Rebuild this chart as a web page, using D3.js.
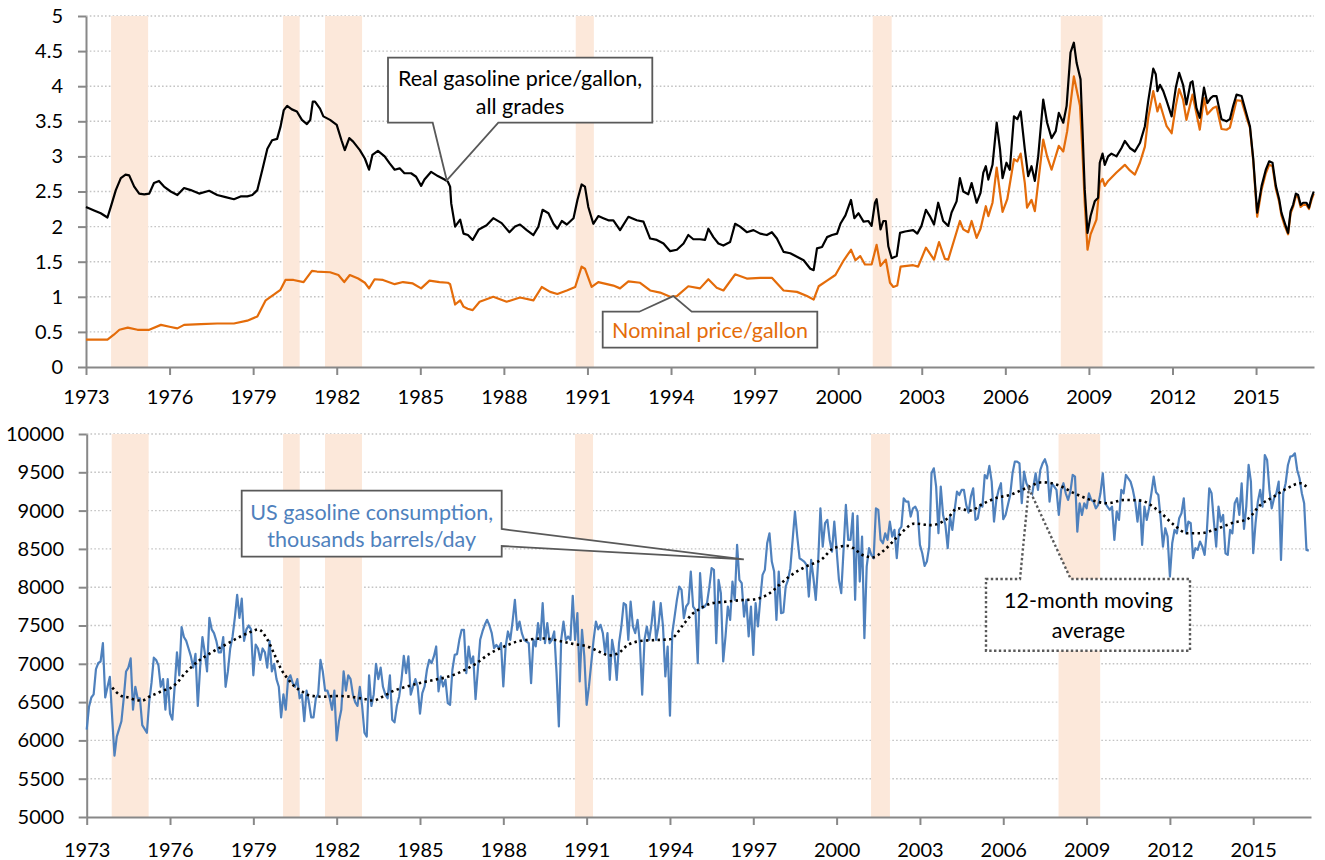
<!DOCTYPE html>
<html><head><meta charset="utf-8">
<script src="https://cdn.jsdelivr.net/npm/d3@7"></script>
<style>
body{margin:0;background:#fff}
svg{display:block}
text{font-family:Lato,"Noto Sans",sans-serif}
</style>
</head><body>
<svg id="chart" width="1325" height="860"></svg>
<script>
// ---------------- DATA ----------------
const xTickYears = [1973,1976,1979,1982,1985,1988,1991,1994,1997,2000,2003,2006,2009,2012,2015];
const priceTicks = [0,0.5,1,1.5,2,2.5,3,3.5,4,4.5,5];
const consTicks = [5000,5500,6000,6500,7000,7500,8000,8500,9000,9500,10000];
const recessions = [[1973.90,1975.23],[1980.07,1980.67],[1981.58,1982.91],[1990.58,1991.23],[2001.24,2001.92],[2007.99,2009.49]];

// real gasoline price per gallon, all grades [year, $]
const realPrice = [[1973.00,2.28],[1973.29,2.23],[1973.53,2.19],[1973.77,2.13],[1973.89,2.28],[1974.07,2.52],[1974.25,2.69],[1974.42,2.74],[1974.55,2.73],[1974.73,2.57],[1974.91,2.47],[1975.09,2.46],[1975.27,2.47],[1975.44,2.62],[1975.62,2.65],[1975.80,2.57],[1976.04,2.50],[1976.28,2.45],[1976.52,2.55],[1976.76,2.52],[1977.06,2.47],[1977.42,2.51],[1977.71,2.45],[1978.01,2.42],[1978.31,2.39],[1978.55,2.43],[1978.79,2.43],[1978.97,2.45],[1979.15,2.52],[1979.33,2.81],[1979.51,3.11],[1979.68,3.23],[1979.86,3.25],[1979.98,3.42],[1980.10,3.66],[1980.22,3.72],[1980.39,3.67],[1980.57,3.64],[1980.75,3.52],[1980.93,3.46],[1981.05,3.52],[1981.14,3.78],[1981.22,3.78],[1981.40,3.68],[1981.52,3.57],[1981.76,3.52],[1982.00,3.45],[1982.17,3.23],[1982.29,3.09],[1982.45,3.26],[1982.59,3.21],[1982.83,3.09],[1983.01,2.97],[1983.16,2.81],[1983.28,3.02],[1983.48,3.08],[1983.72,3.00],[1983.90,2.90],[1984.08,2.81],[1984.26,2.83],[1984.43,2.76],[1984.67,2.76],[1984.85,2.71],[1985.03,2.58],[1985.15,2.67],[1985.39,2.78],[1985.63,2.72],[1985.87,2.67],[1985.99,2.64],[1986.07,2.57],[1986.11,2.33],[1986.25,2.00],[1986.43,2.10],[1986.55,1.90],[1986.71,1.88],[1986.88,1.81],[1987.10,1.96],[1987.38,2.02],[1987.62,2.12],[1987.92,2.05],[1988.20,1.92],[1988.40,2.00],[1988.58,2.03],[1988.82,1.95],[1989.06,1.88],[1989.24,2.00],[1989.39,2.24],[1989.60,2.19],[1989.78,2.04],[1989.92,1.97],[1990.08,2.08],[1990.26,2.03],[1990.50,2.12],[1990.64,2.38],[1990.79,2.60],[1990.91,2.57],[1991.03,2.28],[1991.21,2.04],[1991.39,2.15],[1991.57,2.12],[1991.75,2.09],[1991.93,2.09],[1992.17,1.95],[1992.47,2.14],[1992.77,2.09],[1993.01,2.07],[1993.25,1.83],[1993.49,1.81],[1993.73,1.76],[1993.97,1.65],[1994.21,1.67],[1994.45,1.76],[1994.62,1.88],[1994.80,1.82],[1995.04,1.82],[1995.22,1.81],[1995.34,1.97],[1995.52,1.85],[1995.70,1.76],[1995.88,1.73],[1996.12,1.78],[1996.30,2.04],[1996.48,2.00],[1996.72,1.92],[1996.96,1.95],[1997.20,1.90],[1997.44,1.88],[1997.62,1.92],[1997.80,1.83],[1998.04,1.64],[1998.28,1.62],[1998.52,1.57],[1998.76,1.52],[1999.00,1.40],[1999.12,1.38],[1999.24,1.69],[1999.42,1.71],[1999.60,1.85],[1999.78,1.88],[1999.96,1.90],[2000.08,2.04],[2000.26,2.16],[2000.46,2.38],[2000.58,2.12],[2000.73,2.19],[2000.91,2.07],[2001.08,2.08],[2001.20,2.01],[2001.32,2.34],[2001.38,2.39],[2001.52,1.96],[2001.62,2.08],[2001.71,2.08],[2001.80,1.72],[2001.92,1.55],[2002.10,1.58],[2002.22,1.91],[2002.40,1.93],[2002.69,1.95],[2002.84,1.90],[2002.99,2.01],[2003.15,2.24],[2003.29,2.15],[2003.44,2.03],[2003.59,2.34],[2003.77,2.08],[2003.95,2.01],[2004.07,2.20],[2004.25,2.36],[2004.37,2.69],[2004.49,2.50],[2004.67,2.46],[2004.79,2.62],[2004.97,2.34],[2005.11,2.48],[2005.21,2.77],[2005.30,2.86],[2005.39,2.67],[2005.54,2.88],[2005.69,3.48],[2005.81,3.10],[2005.90,2.69],[2006.04,2.91],[2006.16,2.81],[2006.31,3.57],[2006.43,3.53],[2006.55,3.64],[2006.70,3.10],[2006.82,2.72],[2006.94,2.86],[2007.06,2.65],[2007.18,3.00],[2007.36,3.81],[2007.50,3.48],[2007.66,3.26],[2007.81,3.36],[2007.92,3.62],[2008.08,3.48],[2008.20,3.72],[2008.34,4.48],[2008.46,4.62],[2008.56,4.33],[2008.70,4.10],[2008.77,3.38],[2008.85,2.53],[2008.95,1.91],[2009.06,2.15],[2009.21,2.36],[2009.33,2.41],[2009.39,2.91],[2009.49,3.04],[2009.57,2.88],[2009.69,3.00],[2009.81,3.04],[2009.99,3.00],[2010.17,3.12],[2010.29,3.22],[2010.47,3.12],[2010.65,3.07],[2010.83,3.19],[2011.01,3.43],[2011.13,3.79],[2011.31,4.25],[2011.40,4.17],[2011.46,3.93],[2011.55,4.02],[2011.67,3.93],[2011.79,3.79],[2011.97,3.57],[2012.12,3.98],[2012.24,4.19],[2012.38,4.02],[2012.50,3.74],[2012.65,4.05],[2012.72,4.07],[2012.86,3.69],[2012.98,3.55],[2013.13,3.98],[2013.25,3.76],[2013.37,3.83],[2013.46,3.86],[2013.58,3.86],[2013.76,3.53],[2013.94,3.50],[2014.06,3.53],[2014.18,3.72],[2014.30,3.88],[2014.48,3.86],[2014.66,3.60],[2014.78,3.43],[2014.90,2.96],[2015.04,2.20],[2015.20,2.58],[2015.35,2.81],[2015.47,2.93],[2015.59,2.91],[2015.71,2.58],[2015.83,2.39],[2015.91,2.20],[2016.03,2.05],[2016.15,1.91],[2016.24,2.22],[2016.33,2.31],[2016.43,2.47],[2016.51,2.45],[2016.60,2.31],[2016.69,2.34],[2016.81,2.34],[2016.90,2.27],[2016.99,2.41],[2017.07,2.50]];

// nominal price per gallon [year, $]
const nominalPrice = [[1973.00,0.39],[1973.77,0.39],[1974.00,0.46],[1974.20,0.53],[1974.50,0.56],[1974.85,0.53],[1975.27,0.53],[1975.69,0.60],[1976.04,0.57],[1976.28,0.55],[1976.52,0.60],[1977.12,0.61],[1977.71,0.62],[1978.31,0.62],[1978.79,0.66],[1979.15,0.72],[1979.45,0.95],[1979.74,1.03],[1979.98,1.10],[1980.16,1.24],[1980.45,1.24],[1980.81,1.21],[1981.11,1.37],[1981.29,1.36],[1981.76,1.35],[1982.06,1.31],[1982.27,1.21],[1982.47,1.31],[1982.77,1.26],[1983.01,1.20],[1983.16,1.12],[1983.36,1.25],[1983.66,1.24],[1984.08,1.18],[1984.38,1.21],[1984.73,1.19],[1985.03,1.12],[1985.33,1.23],[1985.69,1.21],[1985.99,1.20],[1986.07,1.18],[1986.25,0.89],[1986.43,0.95],[1986.55,0.86],[1986.70,0.83],[1986.88,0.81],[1987.13,0.93],[1987.62,1.00],[1988.10,0.93],[1988.58,0.99],[1989.06,0.95],[1989.36,1.14],[1989.66,1.07],[1989.92,1.04],[1990.26,1.09],[1990.56,1.14],[1990.79,1.43],[1990.91,1.40],[1991.15,1.14],[1991.39,1.21],[1991.93,1.16],[1992.17,1.12],[1992.47,1.22],[1992.89,1.20],[1993.25,1.09],[1993.61,1.06],[1993.97,1.00],[1994.21,1.01],[1994.62,1.15],[1995.04,1.12],[1995.34,1.25],[1995.64,1.13],[1995.88,1.09],[1996.30,1.32],[1996.72,1.26],[1997.20,1.27],[1997.62,1.27],[1998.04,1.09],[1998.52,1.07],[1998.88,1.01],[1999.12,0.96],[1999.30,1.15],[1999.60,1.23],[1999.90,1.31],[2000.20,1.52],[2000.46,1.67],[2000.62,1.52],[2000.79,1.58],[2000.96,1.46],[2001.20,1.46],[2001.38,1.74],[2001.52,1.44],[2001.71,1.53],[2001.86,1.20],[2001.98,1.14],[2002.12,1.16],[2002.24,1.43],[2002.69,1.45],[2002.87,1.43],[2003.15,1.70],[2003.44,1.53],[2003.62,1.78],[2003.83,1.54],[2003.95,1.53],[2004.37,2.08],[2004.49,1.96],[2004.67,1.92],[2004.79,2.08],[2004.97,1.84],[2005.11,1.97],[2005.30,2.29],[2005.39,2.15],[2005.54,2.34],[2005.69,2.84],[2005.90,2.21],[2006.07,2.39],[2006.31,2.96],[2006.43,2.93],[2006.55,3.04],[2006.70,2.62],[2006.78,2.27],[2006.94,2.38],[2007.06,2.22],[2007.36,3.24],[2007.50,3.00],[2007.66,2.81],[2007.92,3.15],[2008.08,3.07],[2008.22,3.36],[2008.46,4.14],[2008.56,3.95],[2008.68,3.72],[2008.77,3.05],[2008.85,2.34],[2008.95,1.67],[2009.06,1.89],[2009.27,2.10],[2009.39,2.62],[2009.49,2.68],[2009.57,2.58],[2009.69,2.65],[2009.99,2.77],[2010.29,2.88],[2010.47,2.80],[2010.65,2.74],[2010.83,2.91],[2011.01,3.14],[2011.13,3.55],[2011.31,3.93],[2011.46,3.64],[2011.55,3.75],[2011.79,3.43],[2011.97,3.33],[2012.12,3.72],[2012.24,3.96],[2012.38,3.81],[2012.50,3.52],[2012.72,3.88],[2012.98,3.38],[2013.13,3.83],[2013.25,3.60],[2013.46,3.69],[2013.58,3.71],[2013.76,3.39],[2013.94,3.38],[2014.06,3.41],[2014.30,3.80],[2014.48,3.79],[2014.66,3.55],[2014.78,3.41],[2014.90,2.93],[2015.04,2.14],[2015.20,2.53],[2015.35,2.76],[2015.47,2.88],[2015.59,2.86],[2015.71,2.54],[2015.83,2.35],[2015.91,2.16],[2016.03,2.01],[2016.15,1.89],[2016.24,2.19],[2016.33,2.28],[2016.43,2.44],[2016.51,2.42],[2016.60,2.28],[2016.69,2.31],[2016.81,2.31],[2016.90,2.25],[2016.99,2.38],[2017.07,2.47]];

// US gasoline consumption, thousand barrels/day, monthly from Jan 1973
const consumptionStart = 1973;
const consumption = [
6140,6440,6560,6600,6930,7010,7030,7270,6560,6700,6830,6300,
5800,6050,6150,6250,6550,6900,6950,7070,6400,6700,6550,6550,
6200,6150,6100,6500,6750,7080,7050,6980,6700,6800,6400,6800,
6350,6270,6700,7150,6850,7480,7350,7300,7200,7100,6950,7130,
6450,6950,7350,7150,6900,7600,7450,7400,7300,7150,7150,7350,
6700,6900,7200,7350,7600,7900,7600,7850,7300,7450,7500,7450,
6850,7250,7200,7050,7200,7150,6950,7300,6900,7000,6800,6700,
6300,6600,6400,6800,6850,6750,6700,6800,6550,6600,6250,6650,
6500,6300,6300,6550,6600,7050,6900,6650,6650,6550,6400,6650,
6000,6250,6400,6900,6650,6850,6800,6600,6500,6450,6700,6450,
6100,6050,6850,6450,6600,7000,6800,6950,6700,6600,6550,6850,
6270,6235,6450,6574,6791,7104,6878,7096,6596,6704,6800,6704,
6348,6617,6704,6922,7052,7009,7096,7226,6639,6835,6704,6791,
6487,6465,6922,7117,7126,7313,7443,7443,6878,7226,7009,7096,
6539,6922,7313,7422,7509,7574,7500,7400,7204,7248,7204,7270,
6704,7226,7422,7313,7552,7835,7443,7552,7400,7313,7291,7270,
6748,7313,7226,7530,7313,7791,7270,7530,7270,7313,7422,6878,
6182,7313,7552,7313,7356,7313,7887,7313,7661,6770,7443,7096,
6465,6704,7009,7313,7552,7450,7509,7400,7139,7400,6791,7313,
7139,6791,7270,7487,7791,7770,7313,7813,7487,7400,7574,7270,
6596,7313,7487,7313,7509,7813,7313,7487,7791,7487,6835,7226,
6322,7400,7617,7835,8009,7965,7596,7748,7791,8204,7748,7704,
7009,8183,7726,7748,7791,8000,8248,8226,7270,8096,7922,7030,
7357,7748,7574,8074,7835,8552,8096,8052,7617,7835,7357,7748,
7117,7791,7487,7835,8161,8226,8574,8704,8335,8204,7574,8204,
7661,7670,8009,8096,8248,8617,8987,8661,8378,8357,8335,8291,
7878,8357,8117,7835,8313,9030,8530,8835,8878,8617,8465,8857,
8487,8096,7922,8487,9074,8617,8617,8965,7835,8930,8074,8661,
7335,8270,8509,8422,8378,9030,9009,8617,8574,8704,8617,8857,
8661,8748,8378,8748,8791,9161,9117,9117,8922,9030,9052,8987,
8552,8443,8278,8335,8530,9487,9552,9313,8704,9313,8943,8813,
8509,8922,8748,9009,9248,9204,9270,9270,9074,8974,9183,9291,
8878,8900,9074,9052,9465,9422,9583,9378,8857,9139,9270,9357,
8887,8943,9074,9204,9487,9639,9639,9617,9096,9509,9357,9290,
9117,9313,9487,9270,9530,9617,9670,9574,9117,9357,9313,9270,
8943,9270,9357,9226,9139,9248,9465,9443,8726,9096,8943,9096,
9030,9226,9139,9117,9030,9074,9226,9487,9096,9052,9009,9052,
8617,8987,8878,9270,9226,9465,9422,9378,9270,9117,8857,9139,
8552,9052,8878,9030,9226,9443,9240,9204,8900,8530,8770,8661,
8139,8574,8748,8704,8900,8965,9161,8704,8857,8835,8378,8509,
8487,8596,8530,8422,8750,9291,9226,8857,8530,9052,8857,8943,
8443,8422,8748,8704,9096,9161,8943,9357,8760,9052,9596,9378,
8443,8835,9117,9270,9052,9726,9661,9270,9030,9161,9226,9378,
8357,9226,9357,9596,9704,9713,9748,9530,9422,9226,9096,8487,
8478
];

// 12-month moving average [year, kb/d]
const movingAvg = [[1973.92,6690],[1974.25,6580],[1974.5,6560],[1974.75,6530],[1975.0,6520],[1975.25,6570],[1975.5,6610],[1975.75,6650],[1976.0,6680],[1976.25,6750],[1976.5,6860],[1976.75,6950],[1977.0,7030],[1977.5,7150],[1978.0,7250],[1978.5,7350],[1979.0,7430],[1979.17,7450],[1979.5,7320],[1979.75,7130],[1980.0,6930],[1980.25,6800],[1980.5,6700],[1980.75,6640],[1981.0,6590],[1981.5,6570],[1982.0,6580],[1982.5,6570],[1983.0,6540],[1983.3,6520],[1983.7,6580],[1984.0,6640],[1984.5,6700],[1985.0,6750],[1985.5,6790],[1986.0,6830],[1986.5,6900],[1987.0,7000],[1987.5,7130],[1988.0,7220],[1988.5,7290],[1989.0,7320],[1989.5,7330],[1990.0,7300],[1990.5,7260],[1991.0,7230],[1991.5,7150],[1991.8,7110],[1992.1,7130],[1992.5,7250],[1993.0,7300],[1993.5,7310],[1994.0,7320],[1994.5,7520],[1994.8,7650],[1995.0,7700],[1995.5,7790],[1996.0,7810],[1996.5,7830],[1997.0,7840],[1997.5,7900],[1998.0,8050],[1998.3,8140],[1998.9,8270],[1999.45,8360],[1999.9,8510],[2000.4,8540],[2001.0,8410],[2001.3,8390],[2001.7,8480],[2002.2,8660],[2002.8,8830],[2003.4,8810],[2004.0,8900],[2004.35,9030],[2004.8,9000],[2005.3,9095],[2005.8,9170],[2006.2,9200],[2006.8,9290],[2007.4,9370],[2007.96,9335],[2008.56,9226],[2009.16,9139],[2009.76,9096],[2010.35,9139],[2010.95,9130],[2011.55,9009],[2012.15,8813],[2012.63,8704],[2013.1,8704],[2013.58,8748],[2014.3,8843],[2014.78,8887],[2015.26,9074],[2015.74,9183],[2016.22,9291],[2016.7,9357],[2017.0,9280]];

// ---------------- DRAWING ----------------
const svg = d3.select('#chart');
const FONT = 'Lato, "Noto Sans", sans-serif';
const GRID = '#c4c4c4', AXIS = '#888888', BAND = '#fce8da', BOXLINE = '#595959';

const xTop = d3.scaleLinear().domain([1973, 2017.08]).range([86, 1314]);
const yTop = d3.scaleLinear().domain([0, 5]).range([367, 16]);
const xBot = d3.scaleLinear().domain([1973, 2017.08]).range([86.7, 1311]);
const yBot = d3.scaleLinear().domain([5000, 10000]).range([817, 434]);

function drawPanel(g, x, y, yTicks, yFmt, yPad, xPad) {
  const [x0, x1] = x.range();
  const [yb, yt] = y.range();
  // gridlines
  g.append('g').selectAll('line').data(yTicks.slice(1)).join('line')
    .attr('x1', x0).attr('x2', x1).attr('y1', d => y(d)).attr('y2', d => y(d))
    .attr('stroke', GRID).attr('stroke-width', 1.4).attr('stroke-dasharray', '1.6,2.2');
  // recession bands
  g.append('g').selectAll('rect').data(recessions).join('rect')
    .attr('x', d => x(d[0])).attr('width', d => x(d[1]) - x(d[0]))
    .attr('y', yt).attr('height', yb - yt).attr('fill', BAND);
  // y axis
  const ya = g.append('g').attr('transform', `translate(${x0},0)`)
    .call(d3.axisLeft(y).tickValues(yTicks).tickFormat(yFmt).tickSize(8).tickSizeOuter(0).tickPadding(yPad));
  // x axis
  const xa = g.append('g').attr('transform', `translate(0,${yb})`)
    .call(d3.axisBottom(x).tickValues(xTickYears).tickFormat(d3.format('d')).tickSize(8).tickSizeOuter(0).tickPadding(xPad));
  [ya, xa].forEach(a => {
    a.select('.domain').attr('stroke', AXIS).attr('stroke-width', 2);
    a.selectAll('.tick line').attr('stroke', AXIS).attr('stroke-width', 2);
    a.selectAll('.tick text').attr('fill', '#000').style('font-family', FONT).style('font-size', '20px');
  });
}

const gTop = svg.append('g');
drawPanel(gTop, xTop, yTop, priceTicks, d => String(d), 15, 15);
const gBot = svg.append('g');
drawPanel(gBot, xBot, yBot, consTicks, d => String(d), 14.7, 17.3);

// top lines
const priceLine = d3.line().x(d => xTop(d[0])).y(d => yTop(d[1]));
gTop.append('path').datum(nominalPrice).attr('d', priceLine)
  .attr('fill', 'none').attr('stroke', '#e46c0a').attr('stroke-width', 2.2).attr('stroke-linejoin', 'round');
gTop.append('path').datum(realPrice).attr('d', priceLine)
  .attr('fill', 'none').attr('stroke', '#000').attr('stroke-width', 2.2).attr('stroke-linejoin', 'round');

// bottom lines
const consLine = d3.line().x((d, i) => xBot(consumptionStart + i / 12)).y(d => yBot(d));
gBot.append('path').datum(consumption).attr('d', consLine)
  .attr('fill', 'none').attr('stroke', '#4f81bd').attr('stroke-width', 2.2).attr('stroke-linejoin', 'round');
const maLine = d3.line().curve(d3.curveMonotoneX).x(d => xBot(d[0])).y(d => yBot(d[1]));
gBot.append('path').datum(movingAvg).attr('d', maLine)
  .attr('fill', 'none').attr('stroke', '#000').attr('stroke-width', 2.6)
  .attr('stroke-dasharray', '2.4,3.4');

// ---------------- ANNOTATIONS ----------------
function callout(g, pts, dashed) {
  g.append('path').attr('d', 'M' + pts.map(p => p.join(',')).join('L') + 'Z')
    .attr('fill', '#fff').attr('stroke', BOXLINE).attr('stroke-width', dashed ? 2.4 : 1.8)
    .attr('stroke-dasharray', dashed ? '2.4,2.4' : null).attr('stroke-linejoin', 'miter');
}
function label(g, x, y, txt, color) {
  g.append('text').attr('x', x).attr('y', y).attr('text-anchor', 'middle')
    .attr('fill', color).style('font-family', FONT).style('font-size', '21.5px').text(txt);
}

// real price callout
const tip1 = [xTop(1985.95), yTop(2.66)];
callout(gTop, [[388,57.7],[652.3,57.7],[652.3,122.7],[498.3,122.7],tip1,[432.7,122.7],[388,122.7]]);
label(gTop, 520, 85.7, 'Real gasoline price/gallon,', '#000');
label(gTop, 520, 113.5, 'all grades', '#000');

// nominal price callout
const tip2 = [xTop(1994.08), yTop(1.01)];
callout(gTop, [[602.7,311.7],[639.3,311.7],tip2,[691.7,311.7],[817.3,311.7],[817.3,347.7],[602.7,347.7]]);
label(gTop, 710, 338.3, 'Nominal price/gallon', '#e46c0a');

// consumption callout
const tip3 = [xBot(1996.66), yBot(8364)];
callout(gBot, [[241.7,490.7],[501.7,490.7],[501.7,529],tip3,[501.7,546],[501.7,556.7],[241.7,556.7]]);
label(gBot, 371.7, 520, 'US gasoline consumption,', '#4f81bd');
label(gBot, 371.7, 547.3, 'thousands barrels/day', '#4f81bd');

// moving average callout
const tip4 = [xBot(2006.92), yBot(9291)];
callout(gBot, [[986,579],[1020,579],tip4,[1070.7,579],[1190,579],[1190,650.7],[986,650.7]], true);
label(gBot, 1088.5, 608.3, '12-month moving', '#000');
label(gBot, 1088.5, 638.3, 'average', '#000');
</script>
</body></html>
